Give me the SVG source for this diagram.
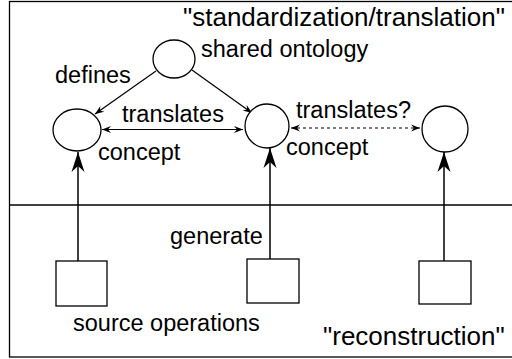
<svg xmlns="http://www.w3.org/2000/svg" width="512" height="359" viewBox="0 0 512 359">
<style>
.t{font-family:"Liberation Sans",Arial,sans-serif;font-size:23.5px;fill:#000}
.big{font-size:26px}
.n{fill:#fff;stroke:#000;stroke-width:1.3}
.c{stroke:#000;stroke-width:1.2;fill:none}
.v{stroke:#000;stroke-width:1.5;fill:none}
</style>
<defs>
<marker id="ah" markerUnits="userSpaceOnUse" markerWidth="12" markerHeight="10" viewBox="-10 -5 12 10" refX="0" refY="0" orient="auto-start-reverse">
<path d="M0,0 L-9,-3.5 L-6,0 L-9,3.5 Z" fill="#000"/>
</marker>
<marker id="big" markerUnits="userSpaceOnUse" markerWidth="24" markerHeight="16" viewBox="-22 -8 24 16" refX="0" refY="0" orient="auto">
<path d="M0,0 L-20,-6.5 L-14,0 L-20,6.5 Z" fill="#000"/>
</marker>
</defs>
<rect x="9.5" y="1.5" width="520" height="355.5" fill="none" stroke="#000" stroke-width="1.3"/>
<line x1="9.5" y1="205" x2="512" y2="205" stroke="#000" stroke-width="1.3"/>
<g id="connectors">
<line class="c" x1="156" y1="71" x2="95" y2="114" marker-end="url(#ah)"/>
<line class="c" x1="192" y1="70" x2="252" y2="113" marker-end="url(#ah)"/>
<line class="c" x1="102" y1="129.5" x2="243" y2="129.5" marker-start="url(#ah)" marker-end="url(#ah)"/>
<line class="c" x1="291" y1="128" x2="420" y2="128" stroke-dasharray="3,3" marker-start="url(#ah)" marker-end="url(#ah)"/>
<line class="v" x1="78" y1="261" x2="78" y2="152" marker-end="url(#big)"/>
<line class="v" x1="270" y1="259" x2="270" y2="148" marker-end="url(#big)"/>
<line class="v" x1="444" y1="261" x2="444" y2="152" marker-end="url(#big)"/>
</g>
<g id="shared-ontology">
<ellipse class="n" cx="174" cy="59" rx="21" ry="19"/>
<text class="t" x="201" y="57">shared ontology</text>
</g>
<g id="concept-left">
<ellipse class="n" cx="77" cy="130" rx="24" ry="21"/>
<text class="t" x="98" y="160">concept</text>
</g>
<g id="concept-middle">
<ellipse class="n" cx="267" cy="126" rx="22" ry="22"/>
<text class="t" x="286" y="155">concept</text>
</g>
<g id="concept-right">
<ellipse class="n" cx="445" cy="129" rx="23" ry="23"/>
</g>
<g id="source-left"><rect class="n" x="56" y="261" width="51" height="45"/></g>
<g id="source-middle"><rect class="n" x="247" y="259" width="52" height="44"/></g>
<g id="source-right"><rect class="n" x="419" y="261" width="52" height="43"/></g>
<g id="labels">
<text class="t big" x="183" y="26">"standardization/translation"</text>
<text class="t" x="55" y="83">defines</text>
<text class="t" x="122" y="122">translates</text>
<text class="t" x="296" y="118">translates?</text>
<text class="t" x="170" y="244">generate</text>
<text class="t" x="73" y="331">source operations</text>
<text class="t big" x="323" y="345">"reconstruction"</text>
</g>
</svg>
